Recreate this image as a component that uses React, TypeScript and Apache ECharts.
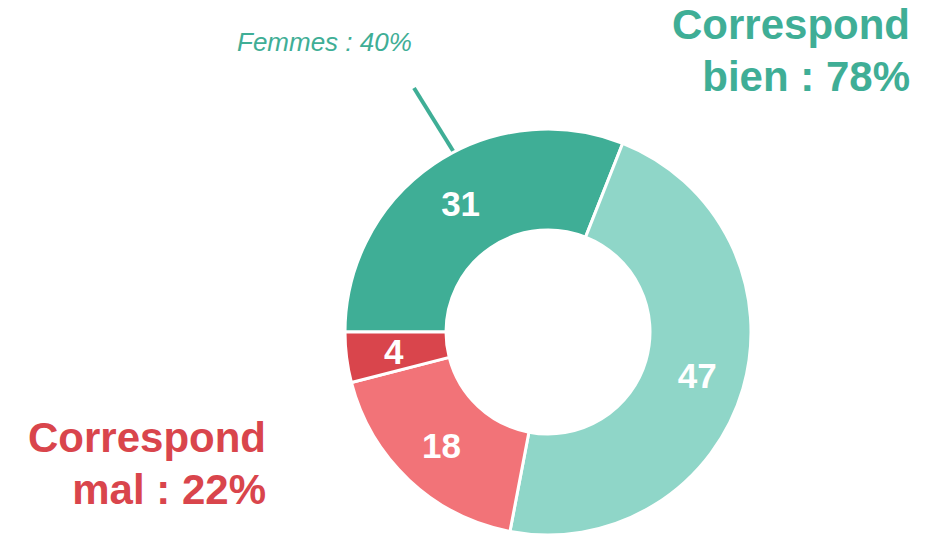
import React, { useEffect, useRef } from "react";
import * as echarts from "echarts";

const categories = ["Femmes - bien", "Hommes - bien", "Hommes - mal", "Femmes - mal"];
const values = [31, 47, 18, 4];
const colors = ["#3FAE96", "#8FD6C8", "#F27378", "#D9454C"];
const annotationFemmes = "Femmes : 40%";
const titleBien = "Correspond\nbien : 78%";
const titleMal = "Correspond\nmal : 22%";

const FONT = "Liberation Sans";

export default function App() {
  const ref = useRef<HTMLDivElement>(null);
  useEffect(() => {
    document.body.style.margin = "0";
    const chart = echarts.init(ref.current!, undefined, { renderer: "svg" });
    chart.setOption({
      animation: false,
      backgroundColor: "#ffffff",
      series: [
        {
          type: "pie",
          center: [548, 332],
          radius: [102, 203],
          startAngle: 180,
          clockwise: true,
          avoidLabelOverlap: false,
          itemStyle: { borderColor: "#ffffff", borderWidth: 3 },
          label: {
            show: true,
            position: "inside",
            formatter: "{c}",
            color: "#ffffff",
            fontSize: 35,
            fontWeight: "bold",
            fontFamily: FONT,
          },
          labelLine: { show: false },
          emphasis: { disabled: true },
          data: categories.map((name, i) => ({
            name,
            value: values[i],
            itemStyle: { color: colors[i] },
          })),
        },
      ],
      graphic: [
        {
          type: "text",
          x: 910,
          y: -2,
          style: {
            text: titleBien,
            align: "right",
            verticalAlign: "top",
            fill: "#3FAE96",
            fontFamily: FONT,
            fontWeight: "bold",
            fontSize: 42,
            lineHeight: 52,
          },
        },
        {
          type: "text",
          x: 266,
          y: 411,
          style: {
            text: titleMal,
            align: "right",
            verticalAlign: "top",
            fill: "#D9454C",
            fontFamily: FONT,
            fontWeight: "bold",
            fontSize: 42,
            lineHeight: 52,
          },
        },
        {
          type: "text",
          x: 237,
          y: 29,
          style: {
            text: annotationFemmes,
            align: "left",
            verticalAlign: "top",
            fill: "#3FAE96",
            fontFamily: FONT,
            fontStyle: "italic",
            fontSize: 26,
          },
        },
        {
          type: "line",
          shape: { x1: 414, y1: 88, x2: 455, y2: 154 },
          style: { stroke: "#3FAE96", lineWidth: 4 },
        },
      ],
    });
    return () => chart.dispose();
  }, []);
  return <div ref={ref} style={{ width: 941, height: 536 }} />;
}
